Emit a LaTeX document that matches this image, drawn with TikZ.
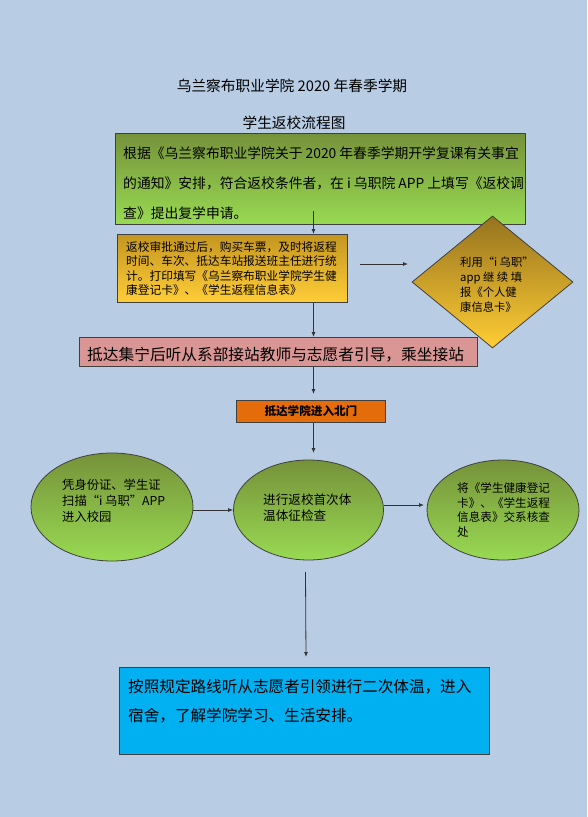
\documentclass[tikz,border=0pt]{standalone}
\usepackage{fontspec}
\setmainfont{Noto Sans CJK SC}
\usetikzlibrary{shapes.geometric,arrows.meta}
\definecolor{bg}{RGB}{184,204,228}
\definecolor{gtop}{RGB}{118,146,58}
\definecolor{gbot}{RGB}{152,218,82}
\definecolor{otop}{RGB}{196,150,32}
\definecolor{obot}{RGB}{255,205,55}
\definecolor{dtop}{RGB}{150,115,30}
\definecolor{dbot}{RGB}{255,205,52}
\definecolor{pinkc}{RGB}{217,150,148}
\definecolor{orangec}{RGB}{228,108,10}
\definecolor{bluec}{RGB}{0,176,240}
\definecolor{edgec}{RGB}{64,64,64}
\tikzset{
  boxbase/.style={draw=edgec, line width=0.8pt, inner sep=0pt, anchor=north west},
  txt/.style={inner sep=0pt, align=left, text=black},
  conn/.style={draw=black!80, line width=0.8pt, -{Latex[length=5pt,width=4pt]}},
  ell/.style={ellipse, draw=edgec, line width=0.8pt, inner sep=0pt, top color=gtop, bottom color=gbot},
}
\begin{document}
\begin{tikzpicture}[x=1pt,y=-1pt]
\useasboundingbox (0,0) rectangle (587,817);
\fill[bg] (0,0) rectangle (587,817);
% titles
\node[txt, font=\fontsize{14.7}{16}\selectfont] (t1) at (292,86) {乌兰察布职业学院 2020 年春季学期};
\node[txt, font=\fontsize{14.7}{16}\selectfont] (t2) at (294,123) {学生返校流程图};
% box 1
\node[boxbase, minimum width=410pt, minimum height=91pt, top color=gtop, bottom color=gbot] (b1) at (115,133) {};
\node[txt, anchor=west, font=\fontsize{13.8}{30}\selectfont] (b1t) at (123,183) {根据《乌兰察布职业学院关于 2020 年春季学期开学复课有关事宜\\的通知》安排，符合返校条件者，在 i 乌职院 APP 上填写《返校调\\查》提出复学申请。};
% box 2
\node[boxbase, minimum width=230pt, minimum height=68pt, top color=otop, bottom color=obot] (b2) at (117,234) {};
\node[txt, anchor=west, font=\fontsize{11.7}{14.5}\selectfont] (b2t) at (126,268.5) {返校审批通过后，购买车票，及时将返程\\时间、车次、抵达车站报送班主任进行统\\计。打印填写《乌兰察布职业学院学生健\\康登记卡》、《学生返程信息表》};
% diamond
\node[diamond, draw=edgec, line width=0.8pt, inner sep=0pt, minimum width=161pt, minimum height=132pt, top color=dtop, bottom color=dbot] (d) at (492.5,282) {};
\node[txt, anchor=west, font=\fontsize{11.3}{14.8}\selectfont] (dt) at (460,284.5) {利用“i 乌职”\\app\ 继\ 续\ 填\\报《个人健\\康信息卡》};
% pink box
\node[boxbase, minimum width=398pt, minimum height=29pt, fill=pinkc] (p) at (79,337) {};
\node[txt, anchor=west, font=\fontsize{15.7}{17}\selectfont] (pt) at (87,355) {抵达集宁后听从系部接站教师与志愿者引导，乘坐接站};
% orange box
\node[boxbase, minimum width=149pt, minimum height=22pt, fill=orangec] (o) at (236,400) {};
\node[txt, font=\bfseries\fontsize{11.6}{13}\selectfont] (ot) at (o.center) {抵达学院进入北门};
% ellipses
\node[ell, minimum width=162pt, minimum height=108pt] (e1) at (112,507) {};
\node[txt, anchor=west, font=\fontsize{12.3}{16}\selectfont] (e1t) at (62,501) {凭身份证、学生证\\扫描“i 乌职”APP\\进入校园};
\node[ell, minimum width=150pt, minimum height=100pt] (e2) at (308.5,510) {};
\node[txt, anchor=west, font=\fontsize{12.6}{16}\selectfont] (e2t) at (263,508) {进行返校首次体\\温体征检查};
\node[ell, minimum width=152pt, minimum height=100pt] (e3) at (503,510) {};
\node[txt, anchor=west, font=\fontsize{11.6}{14.8}\selectfont] (e3t) at (457,510) {将《学生健康登记\\卡》、《学生返程\\信息表》交系核查\\处};
% blue box
\node[boxbase, minimum width=370pt, minimum height=87pt, fill=bluec] (bl) at (119,667) {};
\node[txt, anchor=west, font=\fontsize{15.6}{29}\selectfont] (blt) at (128,701.5) {按照规定路线听从志愿者引领进行二次体温，进入\\宿舍，了解学院学习、生活安排。};
% connector end points
\coordinate (a1s) at (313.5,211);
\coordinate (a2s) at (360,264);
\coordinate (a6s) at (305.5,572);
% connectors
\draw[conn] (a1s) -- (a1s |- b2.north);
\draw[conn] (a2s) -- (408,264);
\draw[conn] (b2.south -| a1s) -- (p.north -| a1s);
\draw[conn] (p.south -| 313.5,0) -- (313.5,394);
\draw[conn] (o.south -| 313.5,0) -- (313.5,453);
\draw[conn] (e1.east |- 0,510) -- (e2.west |- 0,510);
\draw[conn] (384,505) -- (424,505);
\draw[conn] (a6s) -- (306,657);
\end{tikzpicture}
\end{document}
